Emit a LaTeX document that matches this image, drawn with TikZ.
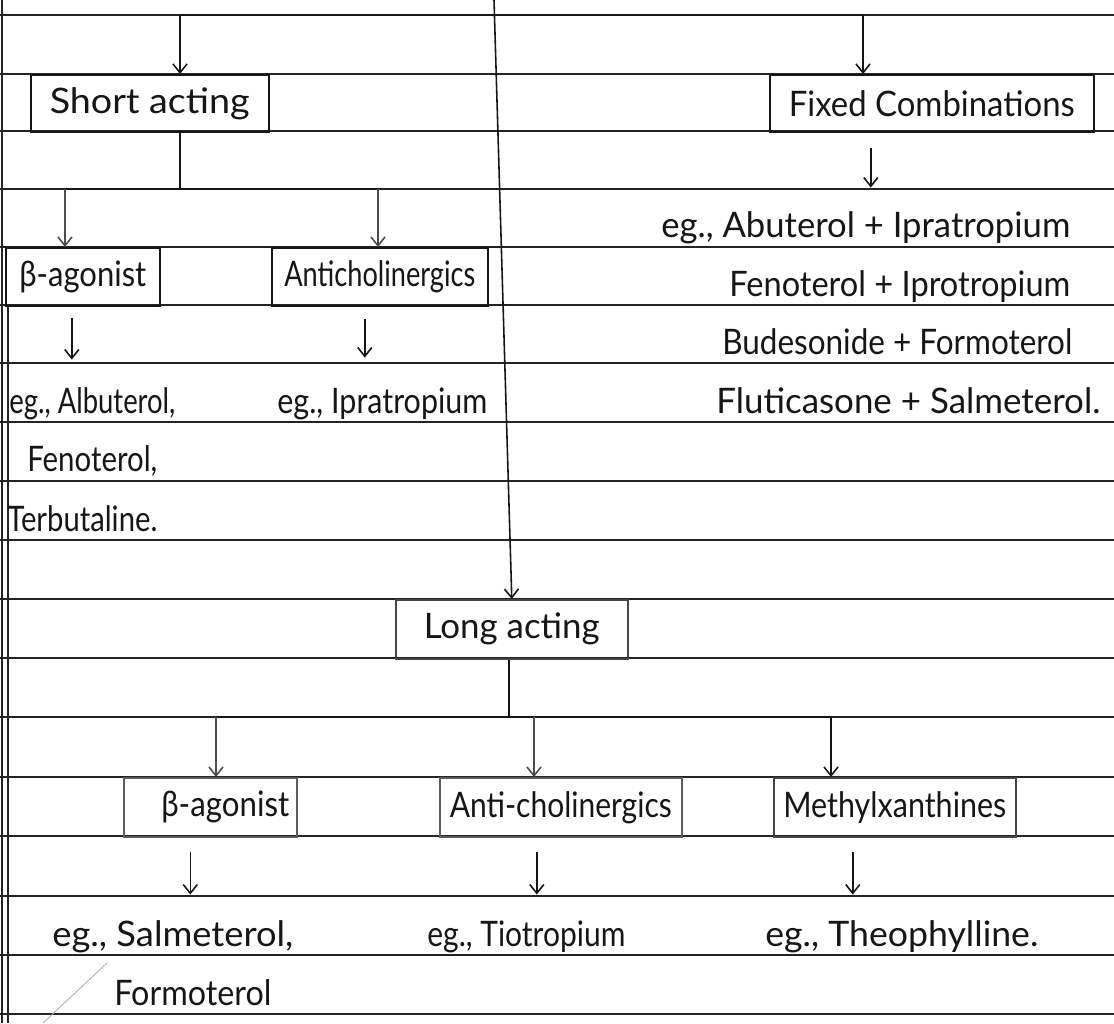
\documentclass[tikz,border=0pt]{standalone}
\usepackage{fontspec}
\setmainfont{Lato}
\usetikzlibrary{arrows.meta,calc}
% one drawing unit (a "px") as an absolute length
\newlength\pxu
\setlength\pxu{0.02cm}
% set a text at a fixed width, keeping its natural height
\newcommand\hw[2]{\resizebox{#1\pxu}{\height}{#2}}
\definecolor{ink}{HTML}{161616}
\definecolor{pencil}{HTML}{4C4C4C}
\definecolor{rulecol}{HTML}{242424}

\begin{document}
\begin{tikzpicture}[x=0.02cm, y=-0.02cm,
  font=\fontsize{20}{24}\selectfont,
  ruled/.style={draw=rulecol, line width=1.0pt},
  box/.style={draw=ink, line width=0.9pt, inner sep=0pt, anchor=north west, text=ink},
  entry/.style={anchor=base west, inner sep=0pt, text=ink},
  stem/.style={draw=ink, line width=0.9pt},
  pen/.style={draw=pencil, line width=0.9pt},
  harrow/.style={pen, -{Straight Barb[length=5pt,width=8pt]}},
  down/.style={draw=ink, line width=0.9pt, -{Straight Barb[length=5pt,width=8pt]}},
]
% page
\fill[white] (0,0) rectangle (1114,1023);
\useasboundingbox (0,0) rectangle (1114,1023);

% ruled notebook lines and the left margin
\foreach \yy in {15,74,131,189,247,305,363,422,481,540,599,658,717,777,836,896,955,1014}
  \draw[ruled] (0,\yy) -- (1114,\yy);
\draw[ruled] (2,0) -- (2,1023);
\draw[ruled] (8,305) -- (8,1023);

% ---------- boxes ----------
\node[box, minimum width=238\pxu, minimum height=57\pxu] (short) at (30,74) {\hw{200}{Short acting}};
\node[box, minimum width=324\pxu, minimum height=57\pxu] (fixed) at (769,74) {\hw{286}{Fixed Combinations}};
\node[box, minimum width=154\pxu, minimum height=58\pxu] (sbeta) at (5,247) {\hw{127}{β-agonist}};
\node[box, minimum width=216\pxu, minimum height=58\pxu] (santi) at (271,247) {\hw{191}{Anticholinergics}};
\node[box, draw=ink!80, minimum width=232\pxu, minimum height=59\pxu] (long) at (395,599) {\hw{176}{Long acting}};
\node[box, draw=ink!70, minimum width=173\pxu, minimum height=59\pxu] (lbeta) at (123,777) {\hspace{30\pxu}\hw{128}{β-agonist}};
\node[box, draw=ink!70, minimum width=242\pxu, minimum height=59\pxu] (lanti) at (439,777) {\hw{222}{Anti-cholinergics}};
\node[box, draw=ink!80, minimum width=242\pxu, minimum height=59\pxu] (lmeth) at (773,777) {\hw{223}{Methylxanthines}};

% ---------- examples ----------
\node[entry] (sbEx1) at (9,413) {\hw{166}{eg., Albuterol,}};
\node[entry] (sbEx2) at (27,471) {\hw{130}{Fenoterol,}};
\node[entry] (sbEx3) at (7,531) {\hw{150}{Terbutaline.}};
\node[entry] (saEx) at (277,413) {\hw{210}{eg., Ipratropium}};

\node[entry] (fxEx1) at (661,238) {\hw{409}{eg., Abuterol + Ipratropium}};
\node[entry] (fxEx2) at (729,297) {\hw{341}{Fenoterol + Iprotropium}};
\node[entry] (fxEx3) at (722,355) {\hw{350}{Budesonide + Formoterol}};
\node[entry] (fxEx4) at (716,413) {\hw{384}{Fluticasone + Salmeterol.}};

\node[entry] (lbEx1) at (52,946) {\hw{241}{eg., Salmeterol,}};
\node[entry] (lbEx2) at (114,1005) {\hw{157}{Formoterol}};
\node[entry] (laEx) at (427,946) {\hw{198}{eg., Tiotropium}};
\node[entry] (lmEx) at (765,946) {\hw{273}{eg., Theophylline.}};

% ---------- top level ----------
\coordinate (root) at (494,0);
\coordinate (tL) at (180,15);
\coordinate (tR) at (863,15);
\draw[stem] (tL) -- (tR);
\draw[harrow, draw=ink] (tL) -- (tL |- short.north);
\draw[harrow, draw=ink] (tR) -- (tR |- fixed.north);
\draw[harrow, draw=ink] (root) -- (long.north);

% ---------- short acting branch ----------
\coordinate (sJ) at (180,189);
\coordinate (sL) at (65,189);
\coordinate (sR) at (378,189);
\draw[stem] (short.south -| sJ) -- (sJ);
\draw[stem] (sL) -- (sR);
\draw[harrow] (sL) -- (sL |- sbeta.north);
\draw[harrow] (sR) -- (sR |- santi.north);

% ---------- long acting branch ----------
\coordinate (lJ) at (509,717);
\coordinate (lL) at (216,717);
\coordinate (lM) at (534,717);
\coordinate (lR) at (831,717);
\draw[stem] (long.south -| lJ) -- (lJ);
\draw[stem] (lL) -- (lR);
\draw[harrow] (lL) -- (lL |- lbeta.north);
\draw[harrow] (lM) -- (lM |- lanti.north);
\draw[harrow, draw=ink] (lR) -- (lR |- lmeth.north);

% ---------- arrows from classes to examples ----------
\draw[down] ([xshift=-11\pxu, yshift=-11\pxu]sbeta.south) -- ++(0,42);
\draw[down] ([xshift=-15\pxu, yshift=-12\pxu]santi.south) -- ++(0,39);
\draw[down] ([xshift=-61\pxu, yshift=-15\pxu]fixed.south) -- ++(0,40);
\draw[down] ([xshift=-20\pxu, yshift=-14\pxu]lbeta.south) -- ++(0,43);
\draw[down] ([xshift=-24\pxu, yshift=-14\pxu]lanti.south) -- ++(0,43);
\draw[down] ([xshift=-42\pxu, yshift=-14\pxu]lmeth.south) -- ++(0,43);

% stray pencil stroke near the bottom margin
\draw[draw=black!30, line width=0.5pt] (107,963) -- (43,1023);
\end{tikzpicture}
\end{document}
